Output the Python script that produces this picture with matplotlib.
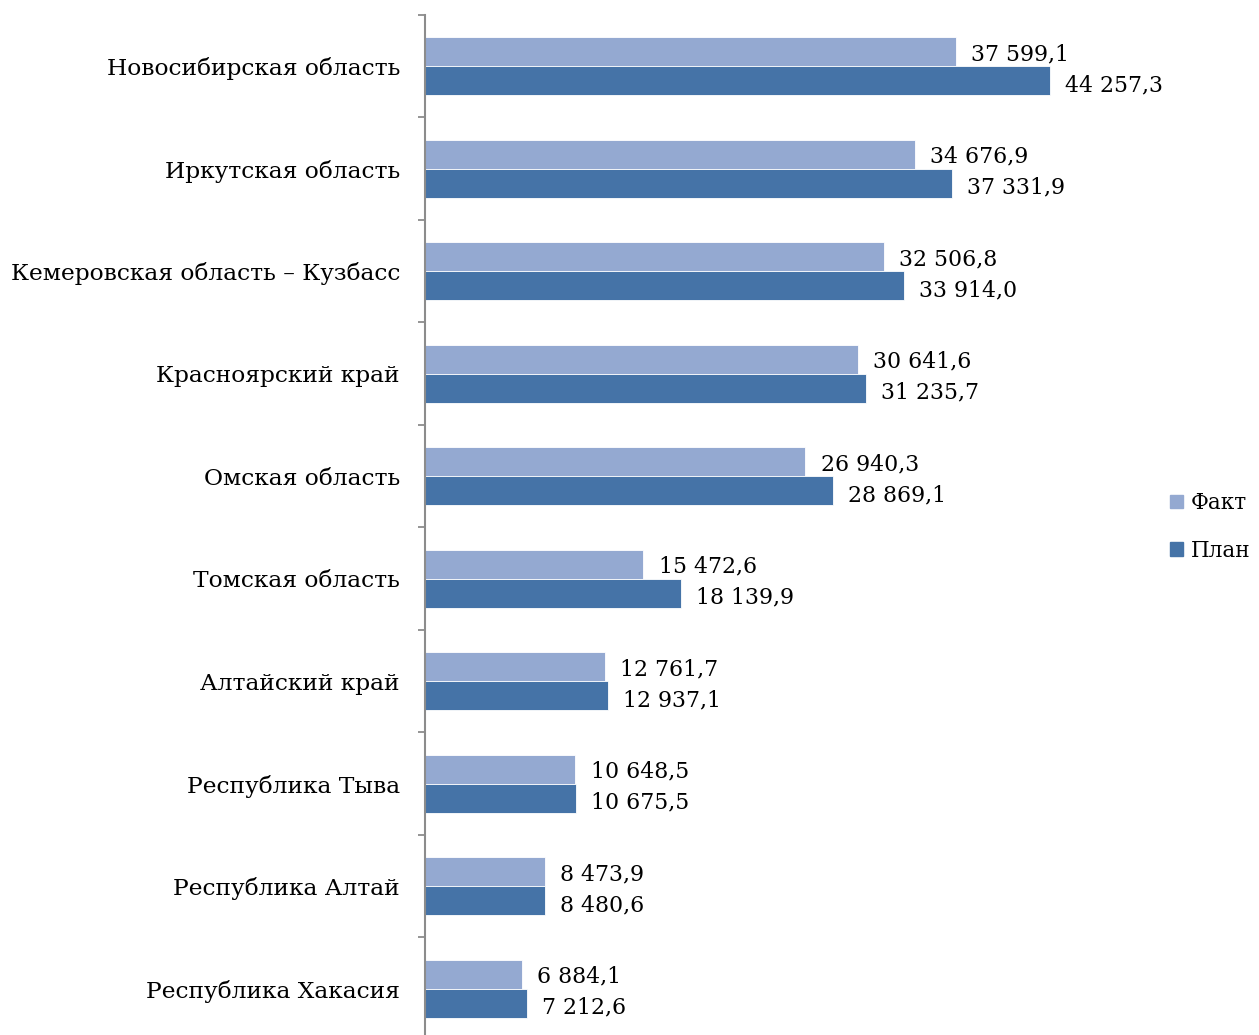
import matplotlib.pyplot as plt
from matplotlib.patches import Patch

regions = ["Новосибирская область", "Иркутская область", "Кемеровская область – Кузбасс",
           "Красноярский край", "Омская область", "Томская область", "Алтайский край",
           "Республика Тыва", "Республика Алтай", "Республика Хакасия"]
fakt = [37599.1, 34676.9, 32506.8, 30641.6, 26940.3, 15472.6, 12761.7, 10648.5, 8473.9, 6884.1]
plan = [44257.3, 37331.9, 33914.0, 31235.7, 28869.1, 18139.9, 12937.1, 10675.5, 8480.6, 7212.6]

c_fakt = '#94a9d1'
c_plan = '#4573a7'


def fmt(v):
    s = f"{v:,.1f}"
    return s.replace(",", " ").replace(".", ",")


plt.rcParams['font.family'] = ['DejaVu Serif']

fig = plt.figure(figsize=(12.59, 10.35), dpi=100)
ax = fig.add_axes([425 / 1259, -5 / 1035, 725 / 1259, 1025 / 1035])

ys = list(range(len(regions)))
h = 0.285
ax.barh([y - h / 2 for y in ys], fakt, height=h, color=c_fakt, edgecolor='white', linewidth=0.6)
ax.barh([y + h / 2 for y in ys], plan, height=h, color=c_plan, edgecolor='white', linewidth=0.6)

for y, f, p in zip(ys, fakt, plan):
    ax.annotate(fmt(f), (f, y - h / 2), xytext=(11, -2), textcoords='offset points',
                va='center', ha='left', fontsize=15.8)
    ax.annotate(fmt(p), (p, y + h / 2), xytext=(11, -3), textcoords='offset points',
                va='center', ha='left', fontsize=15.8)

ax.set_xlim(0, 51340)
ax.set_ylim(len(regions) - 0.5, -0.5)

ax.set_yticks(ys)
ax.set_yticklabels(regions, fontsize=16.8)
ax.tick_params(axis='y', which='major', length=0, pad=18)
ax.set_yticks([y + 0.5 for y in range(-1, len(regions))], minor=True)
ax.tick_params(axis='y', which='minor', length=5, width=1.3, color='#8c8c8c')

for s in ['top', 'right', 'bottom']:
    ax.spines[s].set_visible(False)
ax.spines['left'].set_color('#8c8c8c')
ax.spines['left'].set_linewidth(1.5)
ax.set_xticks([])

handles = [Patch(color=c_fakt, label='Факт'), Patch(color=c_plan, label='План')]
fig.legend(handles=handles, loc='center left', bbox_to_anchor=(1151 / 1259, 1 - 527 / 1035),
           frameon=False, fontsize=15.5, handlelength=0.6, handleheight=0.6,
           handletextpad=0.35, labelspacing=1.2)

fig.savefig('out.png', dpi=100)
